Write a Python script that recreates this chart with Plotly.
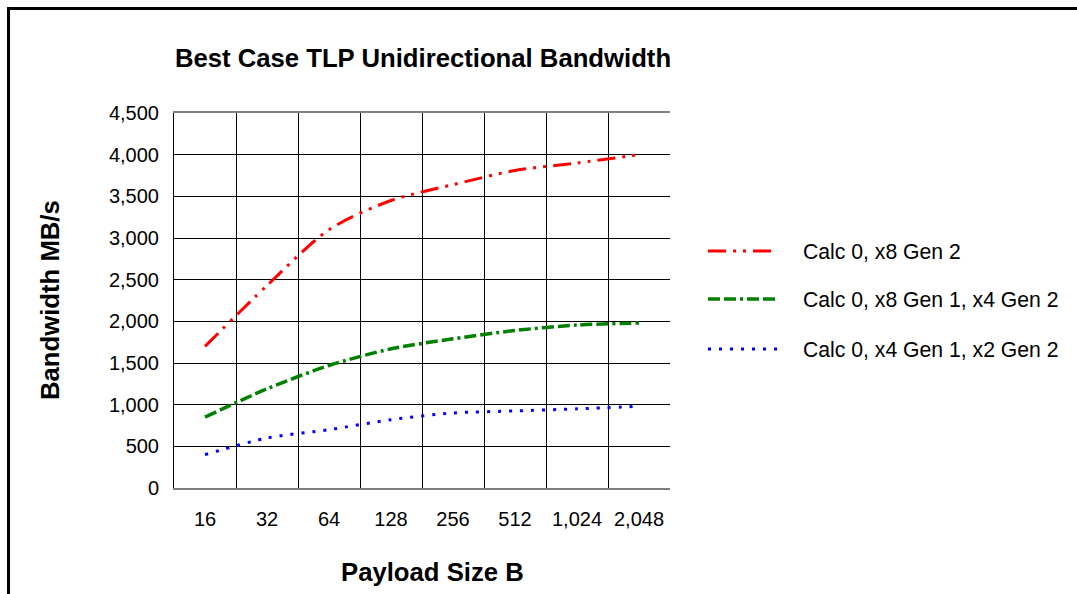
import plotly.graph_objects as go

# ---- data ----
payload_sizes = ["16", "32", "64", "128", "256", "512", "1,024", "2,048"]
series_names = ["Calc 0, x8 Gen 2",
                "Calc 0, x8 Gen 1, x4 Gen 2",
                "Calc 0, x4 Gen 1, x2 Gen 2"]
x8_gen2 = [1700, 2430, 3100, 3450, 3640, 3810, 3900, 4000]
x8g1_x4g2 = [850, 1190, 1470, 1670, 1790, 1890, 1955, 1980]
x4g1_x2g2 = [400, 600, 700, 820, 900, 925, 950, 980]
y_ticks = [0, 500, 1000, 1500, 2000, 2500, 3000, 3500, 4000, 4500]

series_values = [x8_gen2, x8g1_x4g2, x4g1_x2g2]
colors = ["#FF0000", "#008000", "#0000FF"]
dashes = ["18px,7px,3px,7px,3px,7px", "12px,4px,12px,4px,3px,4px", "3px,8px"]
widths = [3, 3.5, 3]

W, H = 1077, 594
L, R, T, B = 174, 670, 113, 488
FONT = "Liberation Sans, Arial, Helvetica, sans-serif"


def px(x):
    return (x - L) / (R - L)


def py(y):
    return (B - y) / (B - T)


fig = go.Figure()
for name, vals, c, d, w in zip(series_names, series_values, colors, dashes, widths):
    fig.add_trace(go.Scatter(
        x=payload_sizes, y=vals, name=name, mode="lines",
        line=dict(color=c, dash=d, width=w, shape="spline", smoothing=0.8),
        showlegend=False))

shapes = []
annotations = []
legend_rows = [251, 299, 349]
for name, c, d, w, ry in zip(series_names, colors, dashes, widths, legend_rows):
    shapes.append(dict(type="line", xref="paper", yref="paper",
                       x0=px(708), x1=px(777), y0=py(ry), y1=py(ry),
                       line=dict(color=c, dash=d, width=w)))
    annotations.append(dict(text=name, xref="paper", yref="paper",
                            x=px(801), y=py(ry), xanchor="left", yanchor="middle",
                            showarrow=False, font=dict(size=21.2, color="black", family=FONT)))

# outer frame (top and left)
shapes.append(dict(type="line", xref="paper", yref="paper",
                   x0=px(7), x1=px(1080), y0=py(8.5), y1=py(8.5),
                   line=dict(color="black", width=3)))
shapes.append(dict(type="line", xref="paper", yref="paper",
                   x0=px(8.5), x1=px(8.5), y0=py(7), y1=py(600),
                   line=dict(color="black", width=3)))

annotations.append(dict(text="<b>Bandwidth MB/s</b>", xref="paper", yref="paper",
                        x=px(50), y=py(300), textangle=-90, showarrow=False,
                        xanchor="center", yanchor="middle",
                        font=dict(size=25.7, color="black", family=FONT)))
annotations.append(dict(text="<b>Payload Size B</b>", xref="paper", yref="paper",
                        x=px(432), y=py(572), showarrow=False,
                        xanchor="center", yanchor="middle",
                        font=dict(size=25.7, color="black", family=FONT)))

fig.update_layout(
    width=W, height=H,
    margin=dict(l=L, r=W - R, t=T, b=H - B, pad=0),
    paper_bgcolor="white", plot_bgcolor="white",
    font=dict(family=FONT, color="black"),
    title=dict(text="<b>Best Case TLP Unidirectional Bandwidth</b>",
               x=px(423), xref="paper", xanchor="center",
               y=1 - 58 / H, yref="container", yanchor="middle",
               font=dict(size=25.7, color="black", family=FONT)),
    shapes=shapes, annotations=annotations,
)
fig.update_xaxes(type="category", range=[-0.5, 7.5], tickson="boundaries",
                 showgrid=True, gridcolor="black", gridwidth=1,
                 showline=True, linecolor="#7f7f7f", linewidth=2, mirror=True,
                 ticks="", ticklabelstandoff=12,
                 tickfont=dict(size=20, color="black", family=FONT))
fig.update_yaxes(range=[0, 4500], tickvals=y_ticks, tickformat=",",
                 showgrid=True, gridcolor="black", gridwidth=1, zeroline=False,
                 showline=True, linecolor="black", linewidth=1,
                 ticks="", ticklabelstandoff=10,
                 tickfont=dict(size=20, color="black", family=FONT))

fig.write_html("out.html", config={"displayModeBar": False},
               post_script="document.body.style.margin='0';")
